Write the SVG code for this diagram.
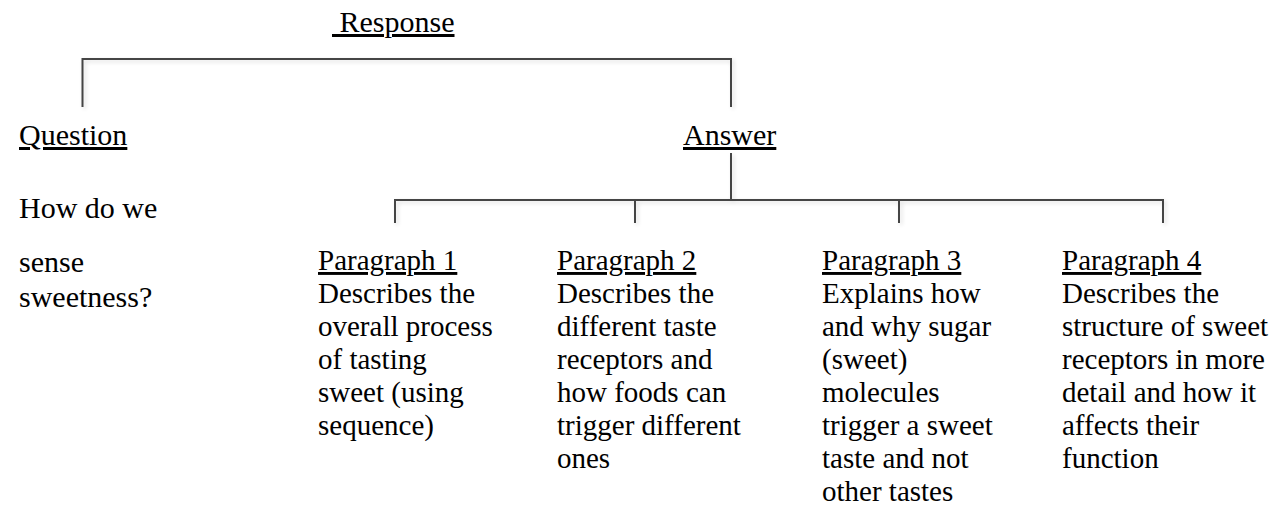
<svg xmlns="http://www.w3.org/2000/svg" width="1283" height="509" viewBox="0 0 1283 509">
  <defs>
    <filter id="soft" x="-20%" y="-20%" width="140%" height="140%">
      <feGaussianBlur in="SourceAlpha" stdDeviation="2"/>
      <feOffset dx="1.5" dy="2" result="b"/>
      <feComponentTransfer><feFuncA type="linear" slope="0.15"/></feComponentTransfer>
      <feMerge><feMergeNode/><feMergeNode in="SourceGraphic"/></feMerge>
    </filter>
  </defs>
  <style>
    text { font-family: "Liberation Serif", "Times New Roman", serif; font-size: 29px; fill: #000; }
    .big { font-size: 30px; }
    .u { text-decoration: underline; }
    .link { fill: none; stroke: #454545; stroke-width: 2; }
  </style>
  <rect width="1283" height="509" fill="#fff"/>

  <!-- tree connectors -->
  <g id="connectors" filter="url(#soft)">
    <path class="link" d="M82.5 107 V59 H731 V107"/>
    <path class="link" d="M731 153 V200"/>
    <path class="link" d="M395 223 V200 H1163 V223"/>
    <path class="link" d="M635 200 V223"/>
    <path class="link" d="M899 200 V223"/>
  </g>

  <g id="response">
    <text x="332" y="32" class="big u">&#160;Response</text>
  </g>

  <g id="question">
    <text x="19" y="145" class="big u">Question</text>
    <text x="19" y="218" class="big">How do we</text>
    <text x="19" y="272" class="big">sense</text>
    <text x="19" y="306.5" class="big">sweetness?</text>
  </g>

  <g id="answer">
    <text x="683" y="145" class="big u">Answer</text>
  </g>

  <g id="paragraph1">
    <text x="318" y="270" class="u">Paragraph 1</text>
    <text x="318" y="303">Describes the</text>
    <text x="318" y="336">overall process</text>
    <text x="318" y="369">of tasting</text>
    <text x="318" y="402">sweet (using</text>
    <text x="318" y="435">sequence)</text>
  </g>

  <g id="paragraph2">
    <text x="557" y="270" class="u">Paragraph 2</text>
    <text x="557" y="303">Describes the</text>
    <text x="557" y="336">different taste</text>
    <text x="557" y="369">receptors and</text>
    <text x="557" y="402">how foods can</text>
    <text x="557" y="435">trigger different</text>
    <text x="557" y="468">ones</text>
  </g>

  <g id="paragraph3">
    <text x="822" y="270" class="u">Paragraph 3</text>
    <text x="822" y="303">Explains how</text>
    <text x="822" y="336">and why sugar</text>
    <text x="822" y="369">(sweet)</text>
    <text x="822" y="402">molecules</text>
    <text x="822" y="435">trigger a sweet</text>
    <text x="822" y="468">taste and not</text>
    <text x="822" y="501">other tastes</text>
  </g>

  <g id="paragraph4">
    <text x="1062" y="270" class="u">Paragraph 4</text>
    <text x="1062" y="303">Describes the</text>
    <text x="1062" y="336">structure of sweet</text>
    <text x="1062" y="369">receptors in more</text>
    <text x="1062" y="402">detail and how it</text>
    <text x="1062" y="435">affects their</text>
    <text x="1062" y="468">function</text>
  </g>
</svg>
